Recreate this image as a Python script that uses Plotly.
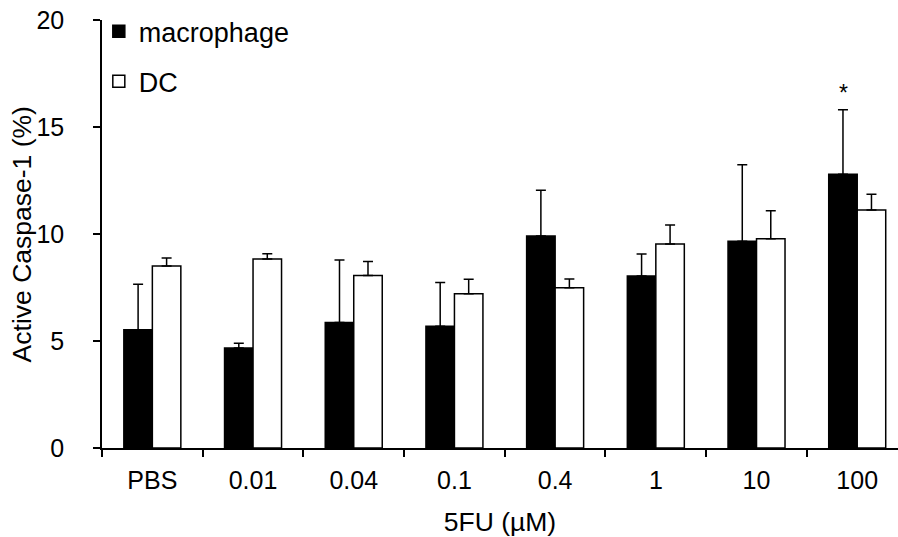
import plotly.graph_objects as go

categories = ["PBS", "0.01", "0.04", "0.1", "0.4", "1", "10", "100"]
macrophage = [5.53, 4.67, 5.87, 5.69, 9.91, 8.04, 9.66, 12.79]
macrophage_err = [2.12, 0.22, 2.92, 2.04, 2.13, 1.03, 3.58, 3.02]
dc = [8.50, 8.83, 8.06, 7.21, 7.49, 9.53, 9.78, 11.12]
dc_err = [0.38, 0.25, 0.66, 0.67, 0.41, 0.89, 1.31, 0.74]
y_ticks = [0, 5, 10, 15, 20]
sig_index = 7

FONT = "Liberation Sans, Arial, sans-serif"

fig = go.Figure()
fig.add_trace(go.Bar(
    name="macrophage", x=categories, y=macrophage,
    marker=dict(color="black", line=dict(color="black", width=1.5)),
    error_y=dict(type="data", array=macrophage_err, arrayminus=[0] * len(categories),
                 symmetric=False, color="black", thickness=1.5, width=5),
    legendgroup="a",
))
fig.add_trace(go.Bar(
    name="DC", x=categories, y=dc,
    marker=dict(color="white", line=dict(color="black", width=1.5)),
    error_y=dict(type="data", array=dc_err, arrayminus=[0] * len(categories),
                 symmetric=False, color="black", thickness=1.5, width=5),
    legendgroup="b",
))

fig.add_annotation(
    x=sig_index, y=macrophage[sig_index] + macrophage_err[sig_index],
    text="*", showarrow=False, xshift=-14, yshift=2, yanchor="bottom",
    font=dict(family=FONT, size=23, color="black"),
)
fig.add_annotation(
    xref="paper", yref="paper", x=-0.1, y=0.5, xanchor="center", yanchor="middle",
    text="Active Caspase-1 (%)", textangle=-90, showarrow=False,
    font=dict(family=FONT, size=26.5, color="black"),
)

fig.update_layout(
    width=898, height=537,
    margin=dict(l=102, r=0, t=20, b=89, autoexpand=False),
    paper_bgcolor="white", plot_bgcolor="white",
    barmode="group", bargap=0.434, bargroupgap=0,
    font=dict(family=FONT, size=25, color="black"),
    showlegend=True,
    legend=dict(x=-0.004, y=1.030, xanchor="left", yanchor="top",
                bgcolor="rgba(0,0,0,0)", font=dict(size=27),
                tracegroupgap=12, itemwidth=30),
    xaxis=dict(
        range=[-0.5, 7.405], showline=True, linecolor="black", linewidth=1.5,
        ticks="outside", tickson="boundaries", ticklen=7, tickwidth=1.5, tickcolor="black",
        showgrid=False, zeroline=False, automargin=False, ticklabelstandoff=9,
        title=dict(text="5FU (µM)", font=dict(size=26.5), standoff=23),
        tickfont=dict(size=25),
    ),
    yaxis=dict(
        range=[0, 20], tickvals=y_ticks, showline=True, linecolor="black", linewidth=1.5,
        ticks="outside", ticklen=7, tickwidth=1.5, tickcolor="black",
        showgrid=False, zeroline=False, ticklabelstandoff=24, automargin=False,
        tickfont=dict(size=25),
    ),
)

fig.write_html("out.html", config={"displayModeBar": False},
               post_script="document.body.style.margin='0';")
